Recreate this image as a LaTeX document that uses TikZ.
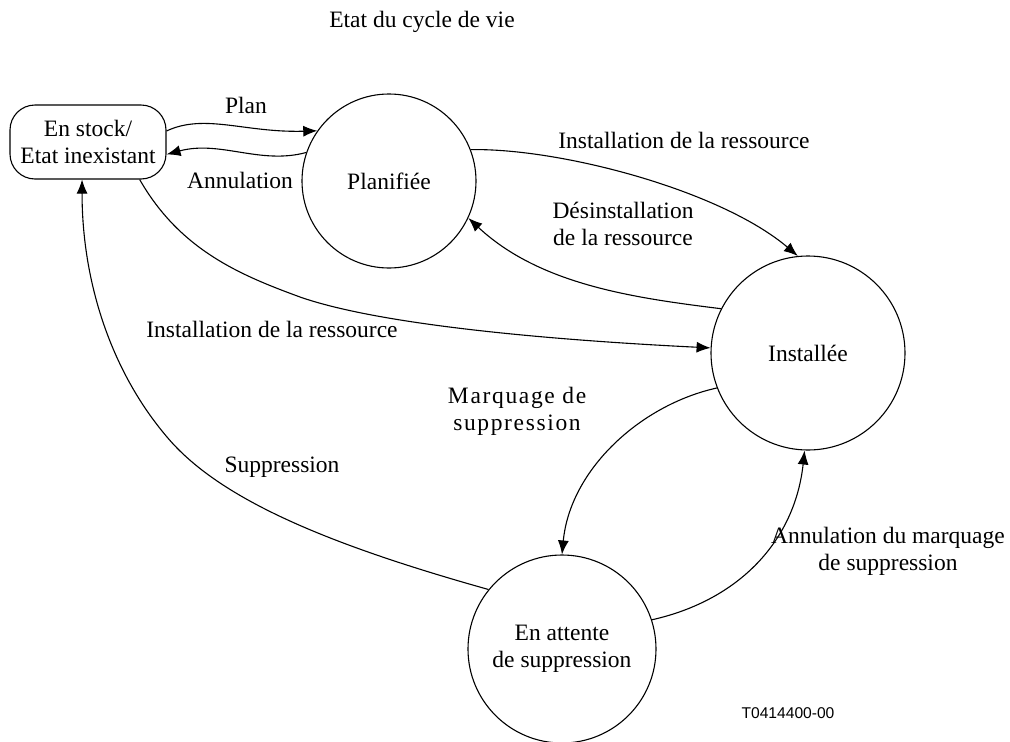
\documentclass[tikz,border=0pt]{standalone}
\usepackage{fontspec}
\setmainfont{Liberation Serif}
\newfontfamily\labsans{Liberation Sans}
\usetikzlibrary{arrows.meta}
\newcommand\fsz{\fontsize{23.5}{27}\selectfont}
\begin{document}
\begin{tikzpicture}[x=1pt,y=-1pt,
  every node/.style={font=\fsz},
  statecirc/.style={draw,circle,inner sep=0pt,line width=1.1pt,align=center},
  stockbox/.style={draw,rectangle,rounded corners=25pt,minimum width=156pt,minimum height=74pt,inner sep=0pt,line width=1.1pt,align=center},
  arr/.style={-{Latex[length=14pt,width=11pt]},line width=1.1pt},
  lab/.style={inner sep=0pt,align=center,anchor=base}]
\useasboundingbox (0,0) rectangle (1010,742);

\node[stockbox] (stock) at (88,142) {En stock/\\Etat inexistant};
\node[statecirc,minimum size=174pt] (plan) at (389,181) {Planifiée};
\node[statecirc,minimum size=194pt] (inst) at (808,353) {Installée};
\node[statecirc,minimum size=188pt] (att) at (562,649) {En attente\\de suppression};

% labels
\node[lab] (title) at (422,27) {Etat du cycle de vie};
\node[lab] (lplan) at (246,113) {Plan};
\node[lab] (lannul) at (240,188) {Annulation};
\node[lab] (linst1) at (684,148) {Installation de la ressource};
\node[lab] (ldes) at (623,245) {Désinstallation\\de la ressource};
\node[lab] (linst2) at (272,337) {Installation de la ressource};
\node[lab] (lsupp) at (282,472) {Suppression};
\node[lab,font=\fsz\addfontfeature{LetterSpace=7}] (lmarq) at (517,430) {M\kern2pt arquage de\\suppression};
\node[lab] (lannm) at (888,570) {Annulation du marquage\\de suppression};
\node[lab,font=\labsans\fontsize{15.6}{18}\selectfont] (code) at (788,718) {T0414400-00};

% connectors
\draw[arr] (stock.8) .. controls (205,113) and (245,133) .. (plan.145);
\draw[arr] (plan.161) .. controls (260,165) and (220,140) .. (stock.-9.5);
\draw[arr] (plan.21.7) .. controls (560,148) and (720,190) .. (inst.96);
\draw[arr] (inst.153) .. controls (635,298) and (540,285) .. (plan.-25);
\draw[arr] (stock.-36) .. controls (180,250) and (240,275) .. (300,297)
   .. controls (380,325) and (550,340) .. (inst.177);
\draw[arr] (inst.-159.5) .. controls (640,405) and (570,470) .. (att.90);
\draw[arr] (att.18.4) .. controls (740,600) and (795,540) .. (inst.-92);
\draw[arr] (att.141) .. controls (330,545) and (220,500) .. (167,437)
   .. controls (110,370) and (82,280) .. (stock.-99);
\end{tikzpicture}
\end{document}
